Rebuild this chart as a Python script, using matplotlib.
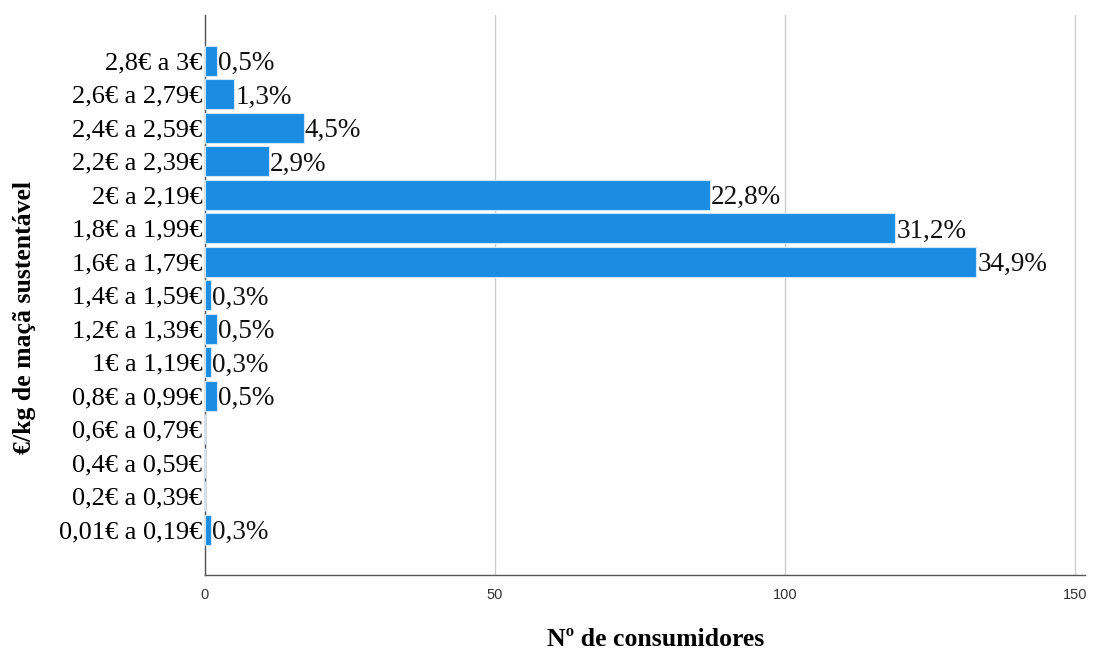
import numpy as np
from matplotlib import pyplot as plt

# price ranges (bottom to top) and number of consumers in each
categories = ['0,01€ a 0,19€', '0,2€ a 0,39€', '0,4€ a 0,59€', '0,6€ a 0,79€',
              '0,8€ a 0,99€', '1€ a 1,19€', '1,2€ a 1,39€', '1,4€ a 1,59€',
              '1,6€ a 1,79€', '1,8€ a 1,99€', '2€ a 2,19€', '2,2€ a 2,39€',
              '2,4€ a 2,59€', '2,6€ a 2,79€', '2,8€ a 3€']
counts = [1, 0, 0, 0, 2, 1, 2, 1, 133, 119, 87, 11, 17, 5, 2]
pct_labels = ['0,3%', '', '', '', '0,5%', '0,3%', '0,5%', '0,3%',
              '34,9%', '31,2%', '22,8%', '2,9%', '4,5%', '1,3%', '0,5%']

serif = 'Liberation Serif'
bar_color = '#1a8de3'

fig = plt.figure(figsize=(10.99, 6.52), dpi=100)
ax = fig.add_axes([0.1865, 0.118, 0.8005, 0.859])

y = np.arange(len(categories))
ax.barh(y, counts, height=0.9, color=bar_color, edgecolor='#cfe6f8',
        linewidth=0.8, zorder=3)

for yi, c, lab in zip(y, counts, pct_labels):
    if lab:
        ax.text(c + 0.2, yi, lab, va='center_baseline', ha='left',
                fontsize=19.5, family=serif, color='#111111', zorder=4)

ax.set_xlim(0, 151.7)
ax.set_ylim(-1.35, len(categories) - 1 + 1.37)
ax.set_yticks(y)
ax.set_yticklabels(categories, family=serif, fontsize=19)
ax.set_xticks([0, 50, 100, 150])
ax.tick_params(axis='x', length=0, labelsize=10.5, colors='#333333', pad=9)
ax.tick_params(axis='y', length=0, pad=2)
for t in ax.get_xticklabels():
    t.set_family('Liberation Sans')

ax.grid(axis='x', color='#cccccc', linewidth=1, zorder=0)
for s in ['top', 'right']:
    ax.spines[s].set_visible(False)
for s in ['left', 'bottom']:
    ax.spines[s].set_color('#555555')
    ax.spines[s].set_linewidth(1)

ax.set_xlabel('Nº de consumidores', family=serif, fontsize=18.5,
              fontweight='bold')
ax.set_ylabel('€/kg de maçã sustentável', family=serif, fontsize=18.5,
              fontweight='bold')
ax.xaxis.set_label_coords(0.5125, -0.095)
ax.yaxis.set_label_coords(-0.192, 0.459)

plt.savefig('out.png', dpi=100)
